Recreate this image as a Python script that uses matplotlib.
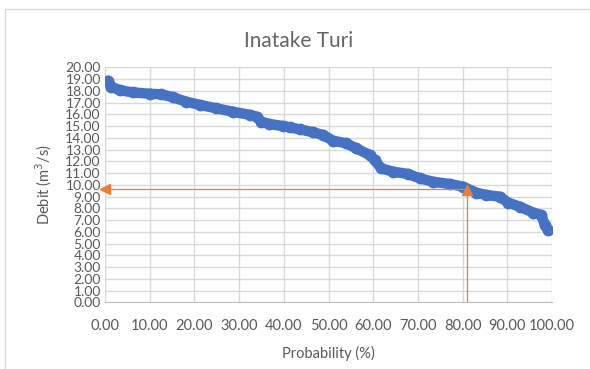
import matplotlib.pyplot as plt
from matplotlib.patches import Rectangle

# flow duration curve
probability = [0.7, 1.4, 3.3, 6.3, 10.0, 12.6, 15.2, 18.2, 21.2, 24.9, 28.6, 32.4,
               33.9, 35.0, 36.8, 39.8, 41.3, 43.6, 46.5, 48.8, 51.0, 54.0, 56.2,
               59.2, 60.3, 61.8, 64.4, 67.8, 70.4, 73.4, 77.1, 80.1, 83.1, 85.3,
               88.3, 90.2, 92.8, 95.8, 97.6, 98.4, 99.1]
debit = [18.86, 18.35, 18.05, 17.86, 17.75, 17.7, 17.45, 17.07, 16.8, 16.51, 16.22,
         15.95, 15.8, 15.37, 15.17, 15.0, 14.89, 14.72, 14.47, 14.24, 13.75, 13.53,
         13.1, 12.54, 12.11, 11.4, 11.12, 10.92, 10.55, 10.26, 10.07, 9.84, 9.33,
         9.13, 8.99, 8.48, 8.14, 7.63, 7.43, 6.58, 6.15]

# design point marked with the orange arrows
p_design = 81.0
q_design = 9.62

x_ticks = [0, 10, 20, 30, 40, 50, 60, 70, 80, 90, 100]
y_ticks = list(range(0, 21))

plt.rcParams['font.family'] = ['Lato', 'DejaVu Sans']
grey = '#595959'

fig = plt.figure(figsize=(5.9, 3.69), dpi=100)
fig.patches.append(Rectangle((5 / 590, -0.05), 1.1, 1.05 - 9 / 369, transform=fig.transFigure,
                             fill=False, edgecolor='#d9d9d9', linewidth=1))
ax = fig.add_axes([105 / 590, 1 - 302.3 / 369, 447 / 590, 235 / 369])

ax.plot(probability, debit, color='#4472C4', linewidth=7.5, marker='o', markersize=7.5,
        solid_capstyle='round', solid_joinstyle='round', zorder=3)

orange = '#ED7D31'
ax.plot([p_design, 0], [q_design, q_design], color=orange, linewidth=0.9, zorder=4)
ax.plot([0], [q_design], marker='<', color=orange, markersize=7, clip_on=False, zorder=5)
ax.plot([p_design, p_design], [0, q_design], color=orange, linewidth=0.9, zorder=4)
ax.plot([p_design], [q_design - 0.05], marker='^', color=orange, markersize=7, zorder=5)

ax.set_xlim(0, 100)
ax.set_ylim(0, 20)
ax.set_xticks(x_ticks)
ax.set_yticks(y_ticks)
ax.set_xticklabels(['%.2f' % v for v in x_ticks])
ax.set_yticklabels(['%.2f' % v for v in y_ticks])
ax.tick_params(length=0, colors=grey)
ax.tick_params(axis='x', pad=12, labelsize=10.5)
ax.tick_params(axis='y', pad=3, labelsize=10)
ax.grid(True, color='#d9d9d9', linewidth=1)
ax.set_axisbelow(True)
for s in ax.spines.values():
    s.set_visible(False)
ax.spines['bottom'].set_visible(True)
ax.spines['bottom'].set_color('#bfbfbf')
ax.spines['left'].set_visible(True)
ax.spines['left'].set_color('#d9d9d9')

ax.set_xlabel('Probability (%)', fontsize=10.5, color=grey, labelpad=9)
ax.set_ylabel('Debit (m$^3$/s)', fontsize=10.5, color=grey, labelpad=8)
fig.text(299 / 590, 1 - 41 / 369, 'Inatake Turi', ha='center', va='center', fontsize=15, color='#666666')

fig.savefig('out.png', dpi=100)
